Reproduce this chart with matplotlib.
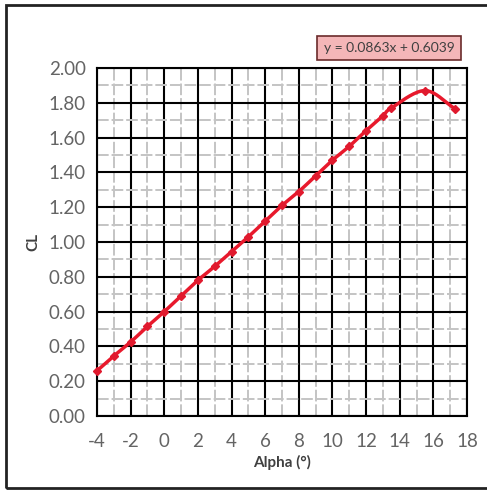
import matplotlib.pyplot as plt
from matplotlib.patches import Rectangle
import numpy as np

# datos
alpha = [-4, -3, -2, -1, 0, 1, 2, 3, 4, 5, 6, 7, 8, 9, 10, 11, 12, 13, 13.5, 15.5, 17.3]
cl = [0.26, 0.345, 0.425, 0.515, 0.60, 0.69, 0.78, 0.86, 0.945, 1.03, 1.12, 1.21,
      1.29, 1.38, 1.47, 1.55, 1.64, 1.725, 1.77, 1.87, 1.765]
x_ticks = list(range(-4, 19, 2))
y_ticks = [0.0, 0.2, 0.4, 0.6, 0.8, 1.0, 1.2, 1.4, 1.6, 1.8, 2.0]
ecuacion = "y = 0.0863x + 0.6039"

plt.rcParams['font.family'] = ['Lato', 'DejaVu Sans']


def suavizar(x, y, n=20):
    # curva tipo catmull-rom, como la linea suavizada de excel
    x = np.asarray(x, float)
    y = np.asarray(y, float)
    px = np.concatenate([[2*x[0]-x[1]], x, [2*x[-1]-x[-2]]])
    py = np.concatenate([[2*y[0]-y[1]], y, [2*y[-1]-y[-2]]])
    xs, ys = [], []
    t = np.linspace(0, 1, n)
    for i in range(1, len(px)-2):
        for p, out in ((px, xs), (py, ys)):
            p0, p1, p2, p3 = p[i-1], p[i], p[i+1], p[i+2]
            out.extend(0.5*((2*p1) + (-p0+p2)*t + (2*p0-5*p1+4*p2-p3)*t**2
                            + (-p0+3*p1-3*p2+p3)*t**3))
    return xs, ys


fig = plt.figure(figsize=(4.87, 4.91), dpi=100)
fig.patch.set_facecolor('white')
fig.patches.append(Rectangle((6/487, 3/491), 1.05, 483/491, transform=fig.transFigure,
                             fill=False, edgecolor='#222222', linewidth=2))

ax = fig.add_axes([97/487, 75/491, 370/487, 348/491])
ax.set_xlim(-4, 18)
ax.set_ylim(0, 2.0)

ax.set_xticks(x_ticks)
ax.set_xticklabels([str(v) for v in x_ticks])
ax.set_yticks(y_ticks)
ax.set_yticklabels(["%.2f" % v for v in y_ticks])
ax.set_xticks(np.arange(-3, 18, 2), minor=True)
ax.set_yticks(np.arange(0.1, 2.0, 0.2), minor=True)

ax.grid(True, which='minor', color='#c4c4c4', linewidth=1.4, linestyle=(0, (6, 1.5)))
ax.grid(True, which='major', color='black', linewidth=1.5)
ax.set_axisbelow(True)
for s in ax.spines.values():
    s.set_linewidth(1.5)
    s.set_color('black')

ax.tick_params(which='both', length=0, labelsize=13.5, labelcolor='#646464', pad=8)
ax.tick_params(axis='x', pad=12)

ax.set_xlabel("Alpha (°)", fontsize=11, fontweight='bold', color='#404040', labelpad=4)
ax.set_ylabel("CL", fontsize=11, fontweight='bold', color='#404040', labelpad=6)

sx, sy = suavizar(alpha, cl)
ax.plot(sx, sy, color='#e8192c', linewidth=2.5, zorder=3, clip_on=False)
ax.plot(alpha, cl, linestyle='none', marker='D', markersize=4, color='#e01a2e',
        zorder=4, clip_on=False)

fig.text(389/487, 1 - 48/491, ecuacion, ha='center', va='center', fontsize=10,
         color='#404040',
         bbox=dict(boxstyle='square,pad=0.45', facecolor='#f4b6b8', edgecolor='#6b2b2b',
                   linewidth=1.2))

fig.savefig('out.png', dpi=100)
